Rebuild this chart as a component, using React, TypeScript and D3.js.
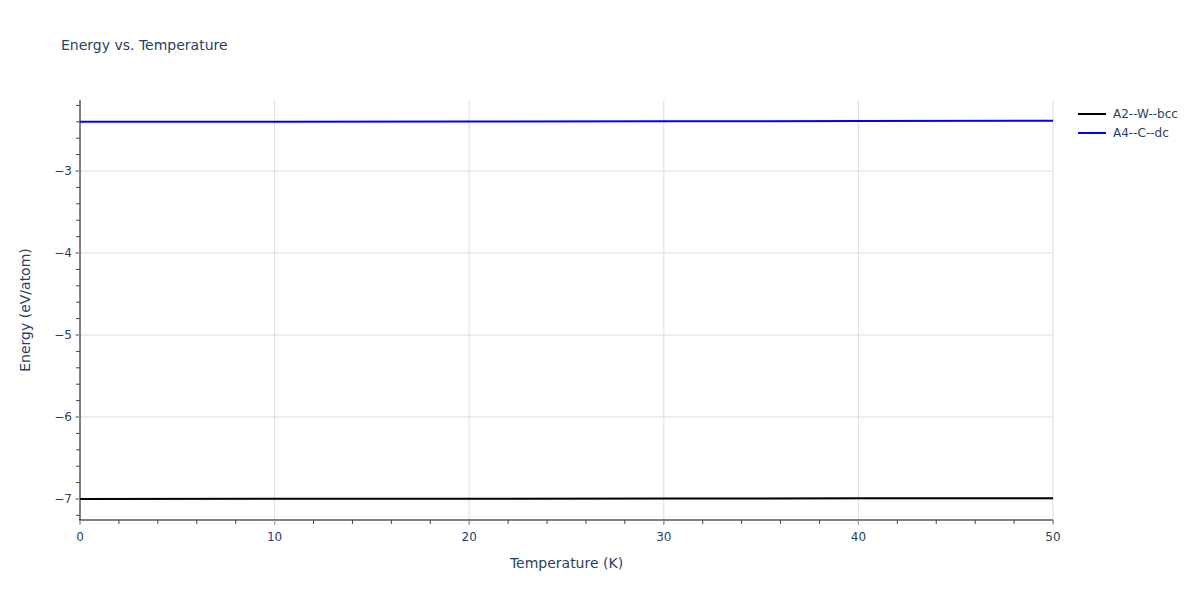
import { useEffect, useRef } from 'react'
import * as d3 from 'd3'

const temperatures = [0, 10, 20, 30, 40, 50]
const energyW = [-7.0, -6.998, -6.996, -6.994, -6.992, -6.99]
const energyC = [-2.4, -2.398, -2.396, -2.394, -2.391, -2.388]
const seriesNames = ['A2--W--bcc', 'A4--C--dc']
const seriesColors = ['#000000', '#0000ff']
const yTicks = [-3, -4, -5, -6, -7]
const xTicks = [0, 10, 20, 30, 40, 50]

export default function App() {
    const svgRef = useRef<SVGSVGElement>(null)

    useEffect(() => {
        if (!svgRef.current) return
        const svg = d3.select(svgRef.current)
        svg.selectAll('*').remove()

        const width = 1200
        const height = 600
        const margin = { top: 100, right: 147, bottom: 80, left: 80 }
        const font = '"DejaVu Sans", Verdana, sans-serif'
        const textColor = '#2a3f5f'

        svg.attr('width', width).attr('height', height).style('font-family', font)

        svg.append('rect').attr('width', width).attr('height', height).attr('fill', '#fff')

        const x = d3.scaleLinear()
            .domain([0, 50])
            .range([margin.left, width - margin.right])
        const y = d3.scaleLinear()
            .domain([-7.256, -2.134])
            .range([height - margin.bottom, margin.top])

        // gridlines
        const grid = svg.append('g')
        grid.selectAll('.vgrid')
            .data(xTicks.filter(d => d > 0))
            .enter()
            .append('line')
            .attr('x1', d => x(d))
            .attr('x2', d => x(d))
            .attr('y1', margin.top)
            .attr('y2', height - margin.bottom)
            .attr('stroke', '#dcdcdc')
            .attr('stroke-width', 1)
        grid.selectAll('.hgrid')
            .data(yTicks)
            .enter()
            .append('line')
            .attr('x1', margin.left)
            .attr('x2', width - margin.right)
            .attr('y1', d => y(d))
            .attr('y2', d => y(d))
            .attr('stroke', '#dcdcdc')
            .attr('stroke-width', 1)

        // minor ticks
        const xMinor = d3.range(0, 50.01, 2)
        const yMinor = d3.range(-7.2, -2.15, 0.2)

        const xAxisG = svg.append('g')
            .attr('transform', `translate(0,${height - margin.bottom})`)
        xAxisG.append('line')
            .attr('x1', margin.left - 1)
            .attr('x2', width - margin.right)
            .attr('stroke', '#000')
            .attr('stroke-width', 1)
        xAxisG.selectAll('.minor')
            .data(xMinor)
            .enter()
            .append('line')
            .attr('x1', d => x(d))
            .attr('x2', d => x(d))
            .attr('y1', 0)
            .attr('y2', 4)
            .attr('stroke', '#444')
        xAxisG.selectAll('.major')
            .data(xTicks)
            .enter()
            .append('line')
            .attr('x1', d => x(d))
            .attr('x2', d => x(d))
            .attr('y1', 0)
            .attr('y2', 5)
            .attr('stroke', '#aaa')
        xAxisG.selectAll('.label')
            .data(xTicks)
            .enter()
            .append('text')
            .attr('x', d => x(d))
            .attr('y', 21)
            .attr('text-anchor', 'middle')
            .attr('font-size', '12px')
            .attr('fill', textColor)
            .text(d => d3.format('d')(d))

        const yAxisG = svg.append('g')
            .attr('transform', `translate(${margin.left},0)`)
        yAxisG.append('line')
            .attr('y1', margin.top)
            .attr('y2', height - margin.bottom)
            .attr('stroke', '#000')
            .attr('stroke-width', 1)
        yAxisG.selectAll('.minor')
            .data(yMinor)
            .enter()
            .append('line')
            .attr('x1', -4)
            .attr('x2', 0)
            .attr('y1', d => y(d))
            .attr('y2', d => y(d))
            .attr('stroke', '#444')
        yAxisG.selectAll('.major')
            .data(yTicks)
            .enter()
            .append('line')
            .attr('x1', -5)
            .attr('x2', 0)
            .attr('y1', d => y(d))
            .attr('y2', d => y(d))
            .attr('stroke', '#aaa')
        yAxisG.selectAll('.label')
            .data(yTicks)
            .enter()
            .append('text')
            .attr('x', -8)
            .attr('y', d => y(d) + 4)
            .attr('text-anchor', 'end')
            .attr('font-size', '12px')
            .attr('fill', textColor)
            .text(d => '\u2212' + Math.abs(d))

        // series lines
        const line = d3.line<number>()
            .x((_, i) => x(temperatures[i]))
            .y(d => y(d))
        ;[energyW, energyC].forEach((values, i) => {
            svg.append('path')
                .datum(values)
                .attr('fill', 'none')
                .attr('stroke', seriesColors[i])
                .attr('stroke-width', 2)
                .attr('d', line)
        })

        // titles
        svg.append('text')
            .attr('x', 61)
            .attr('y', 50)
            .attr('font-size', '14px')
            .attr('fill', textColor)
            .text('Energy vs. Temperature')
        svg.append('text')
            .attr('x', (margin.left + width - margin.right) / 2)
            .attr('y', 568)
            .attr('text-anchor', 'middle')
            .attr('font-size', '14px')
            .attr('fill', textColor)
            .text('Temperature (K)')
        svg.append('text')
            .attr('transform', `translate(30,${(margin.top + height - margin.bottom) / 2}) rotate(-90)`)
            .attr('text-anchor', 'middle')
            .attr('font-size', '14px')
            .attr('fill', textColor)
            .text('Energy (eV/atom)')

        // legend
        const legend = svg.append('g').attr('transform', 'translate(1078,114)')
        seriesNames.forEach((name, i) => {
            legend.append('line')
                .attr('x1', 0)
                .attr('x2', 28)
                .attr('y1', i * 19)
                .attr('y2', i * 19)
                .attr('stroke', seriesColors[i])
                .attr('stroke-width', 2)
            legend.append('text')
                .attr('x', 35)
                .attr('y', i * 19 + 4)
                .attr('font-size', '12px')
                .attr('fill', textColor)
                .text(name)
        })
    }, [])

    return <svg ref={svgRef} style={{ display: 'block', position: 'absolute', left: 0, top: 0 }} />
}
